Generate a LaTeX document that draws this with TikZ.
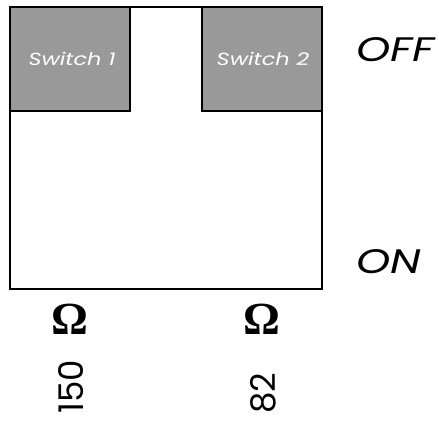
\documentclass[tikz,border=0pt]{standalone}
\usepackage{fontspec}
\setmainfont{Poppins}
\newfontfamily\widefont[FakeStretch=1.28]{Poppins}
\newfontfamily\omegafont{Liberation Serif}
\definecolor{swgray}{HTML}{999999}
\begin{document}
\begin{tikzpicture}[x=1pt,y=1pt,
  frame/.style={draw=black,line width=2.2pt},
  switchbox/.style={draw=black,line width=2.2pt,fill=swgray},
  swlabel/.style={text=white,font=\widefont\itshape\fontsize{17.5}{17.5}\selectfont},
  statelabel/.style={font=\widefont\itshape\fontsize{34}{34}\selectfont,anchor=west},
  ohm/.style={font=\omegafont\bfseries\fontsize{46}{46}\selectfont},
  value/.style={rotate=90,font=\fontsize{34}{34}\selectfont}]
\useasboundingbox (0,0) rectangle (439,-424);
\draw[frame] (10,-7) rectangle (322,-289);
\draw[switchbox] (10,-7) rectangle (130,-111);
\draw[switchbox] (202,-7) rectangle (322,-111);
\node[swlabel] (s1) at (72,-59) {Switch 1};
\node[swlabel] (s2) at (263,-59) {Switch 2};
\node[statelabel] (off) at (353,-50) {OFF};
\node[statelabel] (on) at (353,-262) {ON};
\node[ohm] (o1) at (70,-319) {Ω};
\node[ohm] (o2) at (262,-319) {Ω};
\node[value,anchor=west] (v1) at (71,-417) {150};
\node[value,anchor=west] (v2) at (263,-417) {82};
\end{tikzpicture}
\end{document}
